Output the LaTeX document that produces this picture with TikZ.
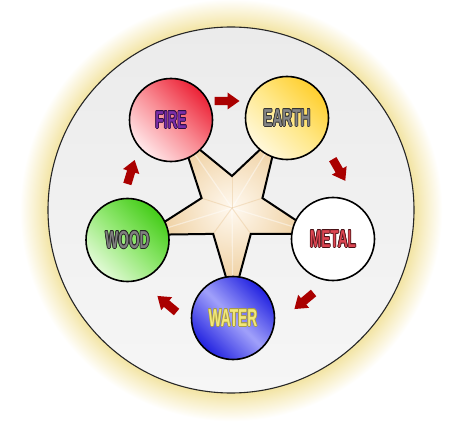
\documentclass[tikz,border=0pt]{standalone}
\usepackage{fontspec}
\newfontfamily\lblfont{Liberation Sans}
\usetikzlibrary{calc}
\definecolor{glowc}{HTML}{F2E3A0}
\definecolor{glowm}{HTML}{F8EFC8}
\definecolor{boardtop}{HTML}{EBEBEB}
\definecolor{boardbot}{HTML}{F6F6F6}
\definecolor{starout}{HTML}{EDCB97}
\definecolor{starin}{HTML}{FFF9F0}
\definecolor{arrowc}{HTML}{AA0000}
\definecolor{firetop}{HTML}{EC2236}
\definecolor{firemid}{HTML}{F98C94}
\definecolor{firebot}{HTML}{FFE8EA}
\definecolor{earthtop}{HTML}{FFCF2E}
\definecolor{earthmid}{HTML}{FFE88A}
\definecolor{earthbot}{HTML}{FFF8DC}
\definecolor{woodtop}{HTML}{44CC18}
\definecolor{woodmid}{HTML}{92E872}
\definecolor{woodbot}{HTML}{E2FAD6}
\definecolor{watertop}{HTML}{2222E0}
\definecolor{watermid}{HTML}{A0A0FA}
\definecolor{firetxt}{HTML}{7A2EA8}
\definecolor{fireol}{HTML}{2E0C45}
\definecolor{metaltxt}{HTML}{DC4652}
\definecolor{metalol}{HTML}{4A1015}
\definecolor{watertxt}{HTML}{F2E878}
\definecolor{waterol}{HTML}{A89C48}
\pgfdeclareradialshading{glowshade}{\pgfpoint{0bp}{0bp}}{color(0bp)=(glowc); color(13.8bp)=(glowc); color(14.7bp)=(glowm); color(16bp)=(white); color(50bp)=(white)}
\newcommand\olt[3]{{\setbox0=\hbox{#3}%
  \color{#1}%
  \rlap{\kern1.2pt\copy0}\rlap{\kern-1.2pt\copy0}%
  \rlap{\raise0.7pt\copy0}\rlap{\lower0.7pt\copy0}%
  \rlap{\kern0.85pt\raise0.5pt\copy0}\rlap{\kern-0.85pt\raise0.5pt\copy0}%
  \rlap{\kern0.85pt\lower0.5pt\copy0}\rlap{\kern-0.85pt\lower0.5pt\copy0}%
  \color{#2}\box0}}
\newcommand\lbl[3]{\scalebox{0.56}[1]{\lblfont\bfseries\fontsize{24.5}{24.5}\selectfont\olt{#1}{#2}{#3}}}
\newcommand\blockarr[3]{\fill[arrowc, shift={(#1,#2)}, rotate=#3] (-12.5,-4.2) -- (0.5,-4.2) -- (0.5,-8.5) -- (12.5,0) -- (0.5,8.5) -- (0.5,4.2) -- (-12.5,4.2) -- cycle;}
\tikzset{
  elem/.style={circle, draw=black, line width=1.6pt, minimum size=83pt, inner sep=0pt},
  board/.style={circle, draw=black!85, line width=1.1pt, minimum size=366pt, inner sep=0pt, top color=boardtop, bottom color=boardbot},
  starline/.style={draw=black, line width=2pt, line join=miter}
}
\begin{document}
\begin{tikzpicture}[x=1pt,y=1pt]
\useasboundingbox (0,0) rectangle (453,432);
\fill[white] (0,0) rectangle (453,432);
\begin{scope}
  \clip (0,0) rectangle (453,432);
  \fill[shading=glowshade] (231,222) circle (330);
\end{scope}
\node[board] (boardc) at (231,222) {};
% element centres
\coordinate (pfire) at (171,312);
\coordinate (pearth) at (287,314);
\coordinate (pmetal) at (333,193);
\coordinate (pwater) at (233,114);
\coordinate (pwood) at (127.5,192);
% star
\coordinate (sc) at (232,224);
\coordinate (t1) at ($(sc)!0.84!(pfire)$);
\coordinate (t2) at ($(sc)!0.84!(pearth)$);
\coordinate (t3) at ($(sc)!0.84!(pmetal)$);
\coordinate (t4) at ($(sc)!0.84!(pwater)$);
\coordinate (t5) at ($(sc)!0.84!(pwood)$);
\coordinate (i1) at ($(sc)+(90:32)$);
\coordinate (i2) at ($(sc)+(18:32)$);
\coordinate (i3) at ($(sc)+(-54:32)$);
\coordinate (i4) at ($(sc)+(-126:32)$);
\coordinate (i5) at ($(sc)+(162:32)$);
\def\starpath{(t1) -- (i1) -- (t2) -- (i2) -- (t3) -- (i3) -- (t4) -- (i4) -- (t5) -- (i5) -- cycle}
\fill[starout] \starpath;
\begin{scope}
  \clip \starpath;
  \shade[inner color=starin, outer color=starout] (sc) circle (82);
  \foreach \t in {t1,t2,t3,t4,t5}{
    \draw[white, opacity=0.45, line width=1.2pt] (sc) -- (\t);
  }
  \foreach \i in {i1,i2,i3,i4,i5}{
    \draw[starout!80!brown, opacity=0.35, line width=1pt] (sc) -- (\i);
  }
\end{scope}
\path[starline] \starpath;
% elements
\node[elem, top color=firetop, bottom color=firebot, middle color=firemid, shading angle=-45] (fire) at (pfire) {\lbl{fireol}{firetxt}{FIRE}};
\node[elem, top color=earthtop, bottom color=earthbot, middle color=earthmid, shading angle=-45] (earth) at (pearth) {\lbl{black!80}{black!48}{EARTH}};
\node[elem, fill=white] (metal) at (pmetal) {\lbl{metalol}{metaltxt}{METAL}};
\node[elem, top color=watertop, bottom color=watertop, middle color=watermid, shading angle=-45] (water) at (pwater) {\lbl{waterol}{watertxt}{WATER}};
\node[elem, top color=woodtop, bottom color=woodbot, middle color=woodmid, shading angle=-45] (wood) at (pwood) {\lbl{black!85}{black!50}{WOOD}};
% arrows
\blockarr{227}{331}{0}
\blockarr{339}{262}{-60}
\blockarr{304}{131}{-140}
\blockarr{167}{128}{140}
\blockarr{131}{260}{73}
\end{tikzpicture}
\end{document}
